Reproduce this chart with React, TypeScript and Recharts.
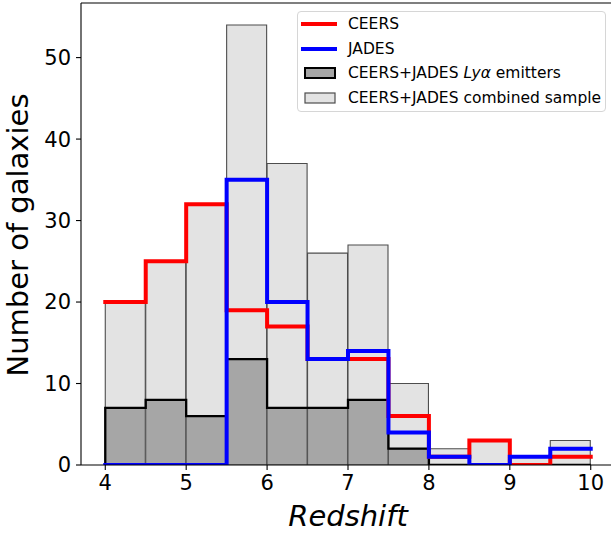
import React from 'react';
import {
  ComposedChart,
  Bar,
  Line,
  XAxis,
  YAxis,
  Legend,
  ReferenceLine,
} from 'recharts';

// Redshift histogram bins (left edges), width 0.5
const binStarts = [4, 4.5, 5, 5.5, 6, 6.5, 7, 7.5, 8, 8.5, 9, 9.5];
const BIN_WIDTH = 0.5;

// Counts per bin
const combinedSample = [20, 25, 32, 54, 37, 26, 27, 10, 2, 3, 1, 3];
const lyaEmitters = [7, 8, 6, 13, 7, 7, 8, 2, 0, 0, 0, 0];
const ceersCounts = [20, 25, 32, 19, 17, 13, 13, 6, 1, 3, 0, 1];
const jadesCounts = [0, 0, 0, 35, 20, 13, 14, 4, 1, 0, 1, 2];

const xTicks = [4, 5, 6, 7, 8, 9, 10];
const yTicks = [0, 10, 20, 30, 40, 50];
const X_DOMAIN: [number, number] = [3.7, 10.3];
const Y_DOMAIN: [number, number] = [0, 56.7];

const FONT = '"DejaVu Sans", "Liberation Sans", sans-serif';

// Filled histograms: Lyα emitters at the bottom, rest of combined sample stacked on top
const barRows = binStarts.map((x, i) => ({
  x: x + BIN_WIDTH / 2,
  lya: lyaEmitters[i],
  rest: combinedSample[i] - lyaEmitters[i],
}));

// Step outlines through the bin edges
const stepRows = (counts: number[]) => [
  ...binStarts.map((x, i) => ({ x, y: counts[i] })),
  { x: binStarts[binStarts.length - 1] + BIN_WIDTH, y: counts[counts.length - 1] },
];

const lyaOutline = [
  { x: binStarts[0], y: 0 },
  ...stepRows(lyaEmitters),
  { x: binStarts[binStarts.length - 1] + BIN_WIDTH, y: 0 },
];
const ceersSteps = stepRows(ceersCounts);
const jadesSteps = stepRows(jadesCounts);

const YTitle = (props: any) => {
  const vb = props.viewBox || { x: 0, y: 3, width: 81, height: 462 };
  const cx = vb.x + 28;
  const cy = vb.y + vb.height / 2 + 1;
  return (
    <text
      x={cx}
      y={cy}
      transform={`rotate(-90, ${cx}, ${cy})`}
      textAnchor="middle"
      fill="#000"
      fontSize={29}
      fontFamily={FONT}
    >
      Number of galaxies
    </text>
  );
};

const LegendBox = () => {
  const rowStyle: React.CSSProperties = {
    position: 'absolute',
    left: 0,
    height: 24,
    display: 'flex',
    alignItems: 'center',
  };
  const textStyle: React.CSSProperties = {
    position: 'absolute',
    left: 50,
    fontSize: 15.5,
    fontFamily: FONT,
    color: '#000',
    whiteSpace: 'nowrap',
    lineHeight: '24px',
  };
  const rows = [
    {
      marker: <line x1={3} x2={39} y1={12} y2={12} stroke="#ff0000" strokeWidth={4} />,
      label: <span>CEERS</span>,
    },
    {
      marker: <line x1={3} x2={39} y1={12} y2={12} stroke="#0000ff" strokeWidth={4} />,
      label: <span>JADES</span>,
    },
    {
      marker: (
        <rect x={7} y={7} width={30} height={10} fill="#a6a6a6" stroke="#000" strokeWidth={2} />
      ),
      label: (
        <span>
          CEERS+JADES <i>Lyα</i> emitters
        </span>
      ),
    },
    {
      marker: (
        <rect x={7} y={7} width={30} height={10} fill="#e3e3e3" stroke="#4d4d4d" strokeWidth={1.2} />
      ),
      label: <span>CEERS+JADES combined sample</span>,
    },
  ];
  return (
    <div
      style={{
        position: 'relative',
        width: 309,
        height: 101,
        boxSizing: 'border-box',
        border: '1px solid #d6d6d6',
        borderRadius: 4,
        background: 'rgba(255,255,255,0.8)',
      }}
    >
      {rows.map((r, i) => (
        <div key={i} style={{ ...rowStyle, top: i * 24.5 }}>
          <svg width={44} height={24} style={{ position: 'absolute', left: 0, top: 0 }}>
            {r.marker}
          </svg>
          <div style={textStyle}>{r.label}</div>
        </div>
      ))}
    </div>
  );
};

export default function App() {
  const tickStyle = { fill: '#000', fontSize: 21, fontFamily: FONT };
  return (
    <div style={{ position: 'fixed', left: 0, top: 0, background: '#fff' }}>
      <ComposedChart
        width={620}
        height={533}
        data={barRows}
        margin={{ top: 3, right: 5, bottom: 0, left: 0 }}
        barCategoryGap={0}
        barGap={0}
      >
        {/* bin-centre axis for the filled histogram bars */}
        <XAxis
          xAxisId="bins"
          orientation="top"
          dataKey="x"
          type="number"
          domain={X_DOMAIN}
          allowDataOverflow
          height={0}
          hide
        />
        <XAxis
          xAxisId="edges"
          dataKey="x"
          type="number"
          domain={X_DOMAIN}
          allowDataOverflow
          ticks={xTicks}
          interval={0}
          height={68}
          tick={tickStyle}
          tickSize={5}
          tickMargin={5}
          tickLine={{ stroke: '#000', strokeWidth: 1.1 }}
          axisLine={{ stroke: '#000', strokeWidth: 1.1 }}
          label={{
            value: 'Redshift',
            position: 'insideBottom',
            offset: 7,
            fill: '#000',
            fontSize: 29,
            fontStyle: 'italic',
            fontFamily: FONT,
          }}
        />
        <YAxis
          type="number"
          domain={Y_DOMAIN}
          allowDataOverflow
          ticks={yTicks}
          interval={0}
          width={81}
          tick={tickStyle}
          tickSize={5}
          tickMargin={5}
          tickLine={{ stroke: '#000', strokeWidth: 1.1 }}
          axisLine={{ stroke: '#000', strokeWidth: 1.1 }}
          label={<YTitle />}
        />
        <ReferenceLine xAxisId="edges" y={Y_DOMAIN[1]} stroke="#000" strokeWidth={1.1} />

        <Bar
          xAxisId="bins"
          dataKey="lya"
          stackId="hist"
          fill="#a6a6a6"
          stroke="#555"
          strokeWidth={1.1}
          isAnimationActive={false}
        />
        <Bar
          xAxisId="bins"
          dataKey="rest"
          stackId="hist"
          fill="#e3e3e3"
          stroke="#4d4d4d"
          strokeWidth={1.1}
          isAnimationActive={false}
        />

        <Line
          xAxisId="edges"
          data={lyaOutline}
          dataKey="y"
          type="stepAfter"
          stroke="#000"
          strokeWidth={2.3}
          dot={false}
          activeDot={false}
          strokeLinejoin="miter"
          isAnimationActive={false}
        />
        <Line
          xAxisId="edges"
          data={ceersSteps}
          dataKey="y"
          type="stepAfter"
          stroke="#ff0000"
          strokeWidth={4}
          dot={false}
          activeDot={false}
          strokeLinejoin="miter"
          strokeLinecap="square"
          isAnimationActive={false}
        />
        <Line
          xAxisId="edges"
          data={jadesSteps}
          dataKey="y"
          type="stepAfter"
          stroke="#0000ff"
          strokeWidth={4}
          dot={false}
          activeDot={false}
          strokeLinejoin="miter"
          strokeLinecap="square"
          isAnimationActive={false}
        />

        <Legend
          layout="vertical"
          align="center"
          verticalAlign="middle"
          content={<LegendBox />}
          wrapperStyle={{ position: 'absolute', left: 297, top: 11, width: 309, height: 101 }}
        />
      </ComposedChart>
    </div>
  );
}
